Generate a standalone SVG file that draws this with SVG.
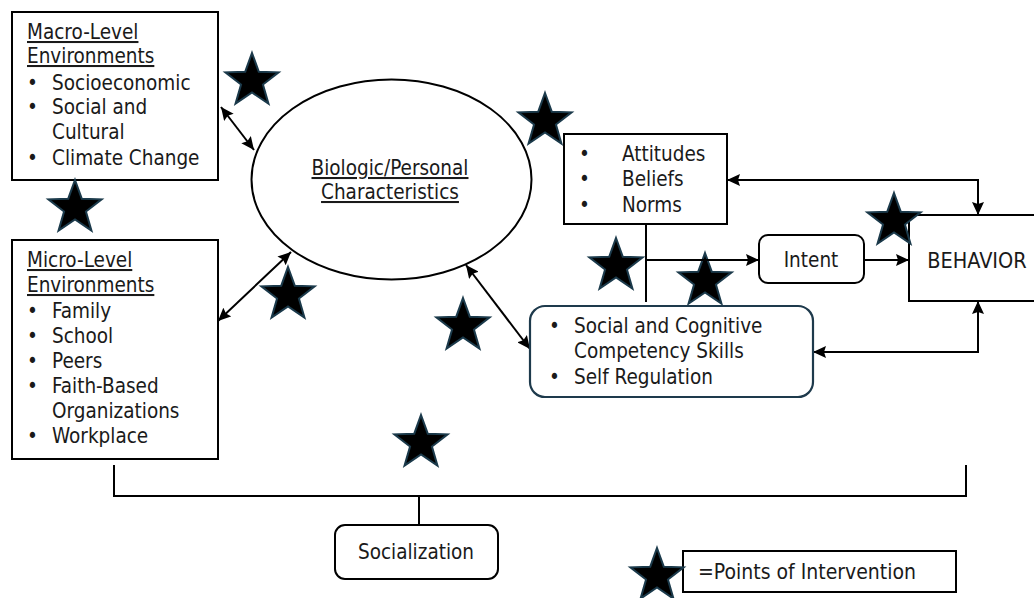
<svg xmlns="http://www.w3.org/2000/svg" width="1034" height="598" viewBox="0 0 1034 598">
<style>
text{font-family:"DejaVu Sans Condensed","DejaVu Sans","Liberation Sans",sans-serif;font-stretch:condensed;font-size:20.5px;fill:#1a1a1a}
.box{fill:#fff;stroke:#000;stroke-width:2}
.scc{fill:#fff;stroke:#1e3a4c;stroke-width:2.2}
.c{fill:none;stroke:#000;stroke-width:2}
.u{text-decoration:underline}
.star{fill:#000;stroke:#1b3a4b;stroke-width:2;stroke-linejoin:miter}
.m{text-anchor:middle}
</style>
<defs>
<marker id="ah" markerUnits="userSpaceOnUse" markerWidth="14" markerHeight="12" refX="13" refY="6" orient="auto-start-reverse"><path d="M0,0 L13,6 L0,12 L2,6 z" fill="#000"/></marker>
<path id="star" d="M0,-28 L6.76,-9.3 L26.63,-8.65 L10.94,3.55 L16.46,22.65 L0,11.5 L-16.46,22.65 L-10.94,3.55 L-26.63,-8.65 L-6.76,-9.3 Z"/>
</defs>

<g id="star-7"><use href="#star" class="star" x="705" y="281"/></g>

<g id="connectors">
<line class="c" x1="221" y1="107" x2="254" y2="150" marker-start="url(#ah)" marker-end="url(#ah)"/>
<line class="c" x1="218" y1="321" x2="291" y2="252" marker-start="url(#ah)" marker-end="url(#ah)"/>
<line class="c" x1="466" y1="265" x2="530" y2="349" marker-start="url(#ah)" marker-end="url(#ah)"/>
<path class="c" d="M727,180 H978 V215" marker-start="url(#ah)" marker-end="url(#ah)"/>
<path class="c" d="M813,352 H978 V301" marker-start="url(#ah)" marker-end="url(#ah)"/>
<path class="c" d="M646,224 V302"/>
<path class="c" d="M646,260 H759" marker-end="url(#ah)"/>
<path class="c" d="M864,260 H909" marker-end="url(#ah)"/>
<path class="c" d="M114,465 V496 H966 V465"/>
<path class="c" d="M419,496 V525"/>
</g>

<g id="macro">
<rect class="box" x="12" y="12" width="206" height="168"/>
<text x="27" y="39" class="u">Macro-Level</text>
<text x="27" y="63" class="u">Environments</text>
<text x="27" y="90">•</text><text x="52" y="90">Socioeconomic</text>
<text x="27" y="114">•</text><text x="52" y="114">Social and</text>
<text x="52" y="139">Cultural</text>
<text x="27" y="165">•</text><text x="52" y="165">Climate Change</text>
</g>

<g id="micro">
<rect class="box" x="12" y="240" width="206" height="219"/>
<text x="27" y="267" class="u">Micro-Level</text>
<text x="27" y="292" class="u">Environments</text>
<text x="27" y="318">•</text><text x="52" y="318">Family</text>
<text x="27" y="343">•</text><text x="52" y="343">School</text>
<text x="27" y="368">•</text><text x="52" y="368">Peers</text>
<text x="27" y="393">•</text><text x="52" y="393">Faith-Based</text>
<text x="52" y="418">Organizations</text>
<text x="27" y="443">•</text><text x="52" y="443">Workplace</text>
</g>

<g id="biologic">
<ellipse class="box" cx="391.5" cy="179.5" rx="140" ry="100"/>
<text x="390" y="175" class="m u">Biologic/Personal</text>
<text x="390" y="199" class="m u">Characteristics</text>
</g>

<g id="attitudes">
<rect class="box" x="564" y="134" width="163" height="90"/>
<text x="579" y="161">•</text><text x="622" y="161">Attitudes</text>
<text x="579" y="186">•</text><text x="622" y="186">Beliefs</text>
<text x="579" y="212">•</text><text x="622" y="212">Norms</text>
</g>

<g id="intent">
<rect class="box" x="759" y="235" width="105" height="48" rx="9"/>
<text x="811" y="267" class="m">Intent</text>
</g>

<g id="behavior">
<rect class="box" x="909" y="215" width="140" height="86"/>
<text x="977" y="268" class="m" style="font-size:21.5px">BEHAVIOR</text>
</g>

<g id="skills">
<rect class="scc" x="530" y="306" width="283" height="91" rx="15"/>
<text x="549" y="333">•</text><text x="574" y="333">Social and Cognitive</text>
<text x="574" y="358">Competency Skills</text>
<text x="549" y="384">•</text><text x="574" y="384">Self Regulation</text>
</g>

<g id="socialization">
<rect class="box" x="335" y="525" width="163" height="54" rx="10"/>
<text x="416" y="559" class="m">Socialization</text>
</g>

<g id="legend">
<rect class="box" x="683" y="551" width="273" height="41"/>
<text x="698" y="579" style="font-size:21px">=Points of Intervention</text>
</g>

<g id="stars">
<use href="#star" class="star" x="252" y="81"/>
<use href="#star" class="star" x="75" y="208"/>
<use href="#star" class="star" x="288" y="295"/>
<use href="#star" class="star" x="463" y="326"/>
<use href="#star" class="star" x="545" y="121"/>
<use href="#star" class="star" x="616" y="266"/>
<use href="#star" class="star" x="894" y="221"/>
<use href="#star" class="star" x="421" y="443"/>
<use href="#star" class="star" x="657" y="576"/>
</g>
</svg>
